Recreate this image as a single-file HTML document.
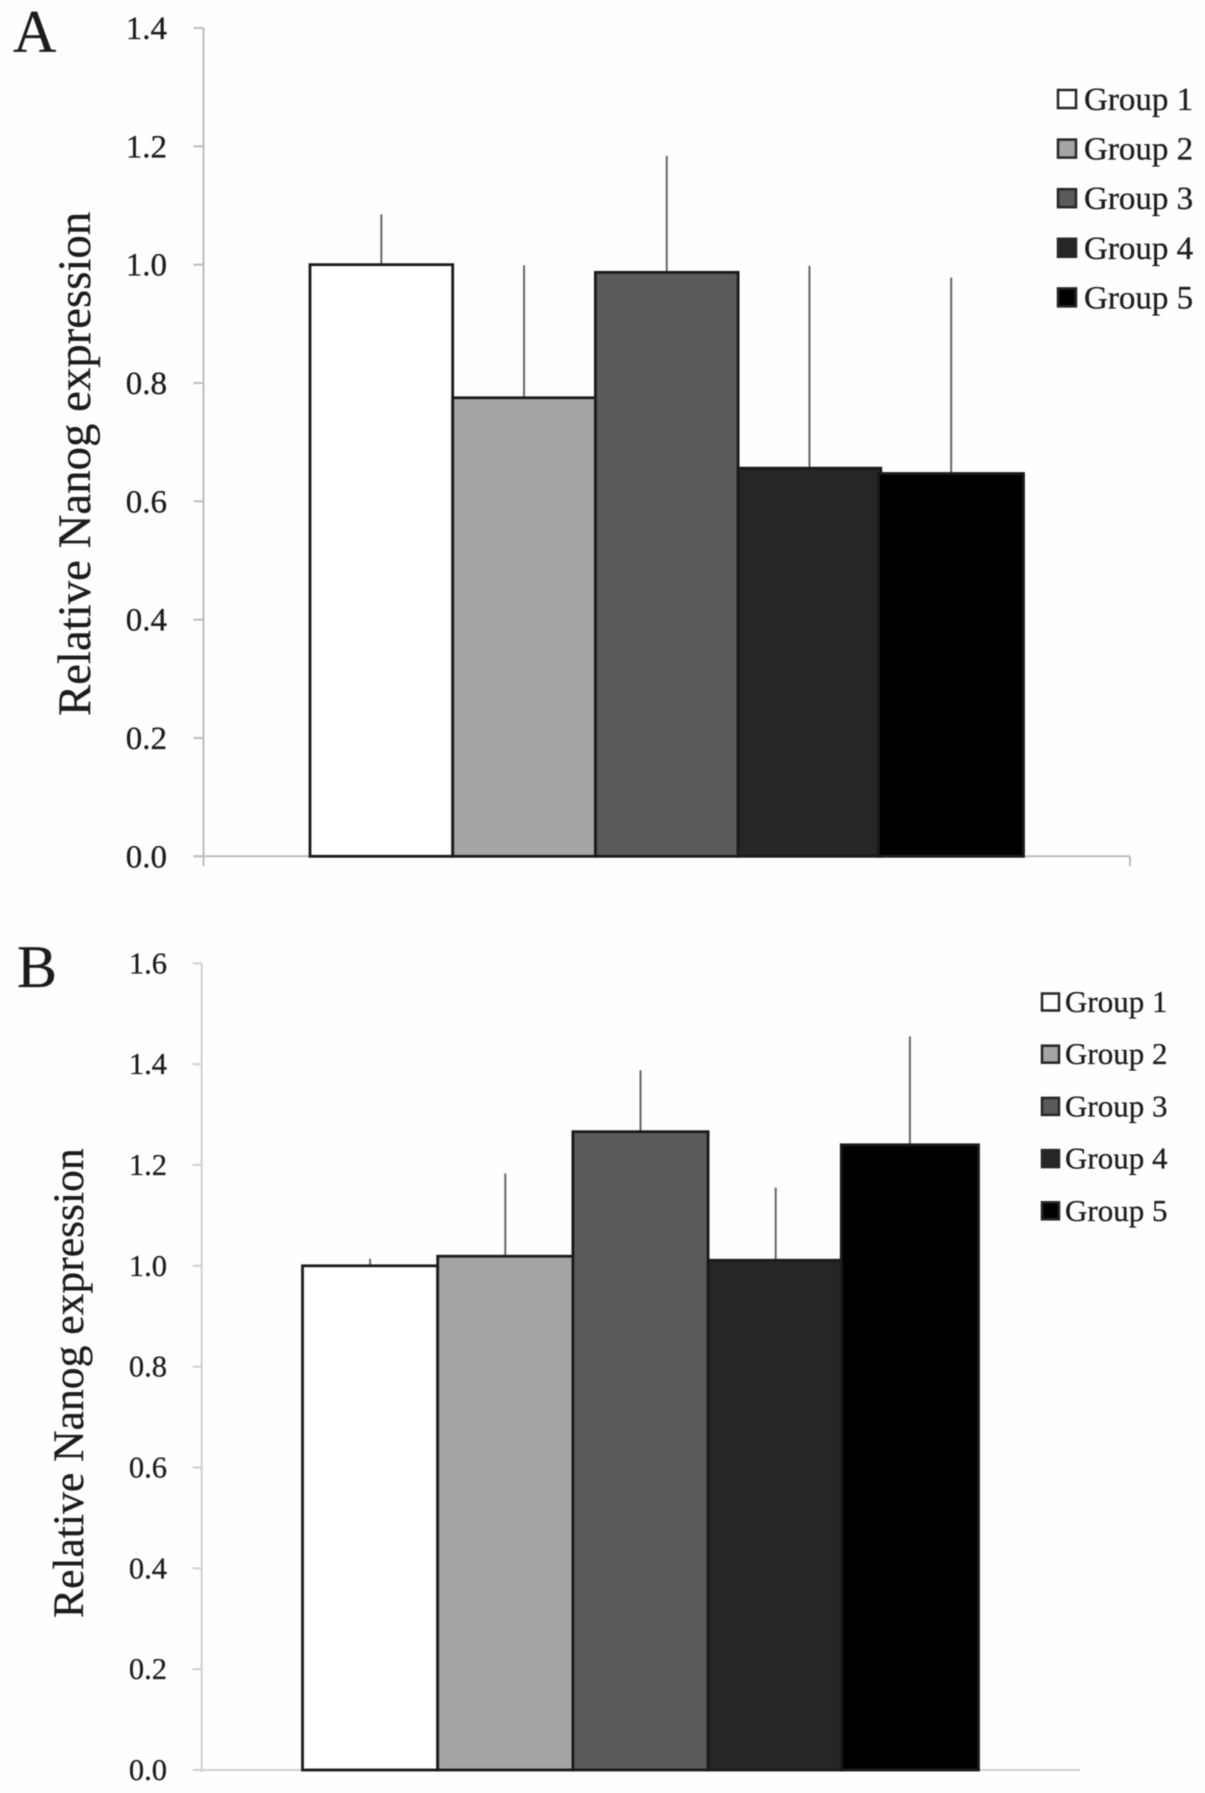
<!DOCTYPE html>
<html lang="en">
<head>
<meta charset="utf-8">
<title>Relative Nanog expression</title>
<style>
  html, body { margin: 0; padding: 0; background: #fefefe; }
  body { width: 1205px; height: 1793px; overflow: hidden; }
  svg { display: block; filter: blur(0.5px); }
  text { font-family: "Liberation Serif", serif; fill: #1c1c1c; stroke: #1c1c1c; stroke-width: 0.3px; }
</style>
</head>
<body>
<svg id="figure" xmlns="http://www.w3.org/2000/svg" width="1205" height="1793" viewBox="0 0 1205 1793">
  <rect x="0" y="0" width="1205" height="1793" fill="#fefefe"/>
  <text x="13" y="52" font-size="60">A</text>
  <text x="17" y="987" font-size="60">B</text>
  <text transform="translate(90 716) rotate(-90)" font-size="46.8">Relative Nanog expression</text>
  <text transform="translate(83 1618) rotate(-90)" font-size="43.6">Relative Nanog expression</text>
</svg>
<script>
const groupNames = ['Group 1', 'Group 2', 'Group 3', 'Group 4', 'Group 5'];
const groupColors = ['#ffffff', '#a5a5a5', '#5a5a5a', '#262626', '#000000'];

const panelATicks = ['0.0', '0.2', '0.4', '0.6', '0.8', '1.0', '1.2', '1.4'];
const panelAMeans = [1.0, 0.775, 0.987, 0.656, 0.647];
const panelAErrors = [0.085, 0.224, 0.197, 0.342, 0.331];

const panelBTicks = ['0.0', '0.2', '0.4', '0.6', '0.8', '1.0', '1.2', '1.4', '1.6'];
const panelBMeans = [1.0, 1.019, 1.266, 1.011, 1.24];
const panelBErrors = [0.014, 0.164, 0.122, 0.144, 0.215];

const SVG_NS = 'http://www.w3.org/2000/svg';
const figure = document.getElementById('figure');

function make(tag, attrs, parent) {
  const el = document.createElementNS(SVG_NS, tag);
  for (const key in attrs) el.setAttribute(key, attrs[key]);
  parent.appendChild(el);
  return el;
}

function drawPanel(cfg, ticks, means, errors) {
  const group = make('g', {}, figure);
  
  

  const tickValues = ticks.map(Number);
  const maxValue = Math.max.apply(null, tickValues);
  const yScale = v => cfg.yZero - (v / maxValue) * (cfg.yZero - cfg.yTop);
  const xBand = i => cfg.barStart + i * cfg.barStep;

  // axes
  const yAxis = make('line', { x1: cfg.axisX, x2: cfg.axisX, y1: cfg.yTop, y2: cfg.axisBottom, stroke: cfg.axisColor, 'stroke-width': 2 }, group);
  
  

  const xAxis = make('line', { x1: cfg.axisX - cfg.tickLen, x2: cfg.axisEnd, y1: cfg.yZero, y2: cfg.yZero, stroke: cfg.axisColor, 'stroke-width': 2 }, group);
  
  

  if (cfg.endTick) {
    const endTick = make('line', { x1: cfg.axisEnd, x2: cfg.axisEnd, y1: cfg.yZero, y2: cfg.yZero + cfg.endTick, stroke: cfg.axisColor, 'stroke-width': 2 }, group);
    
    
  }

  // ticks and labels
  ticks.forEach((label, i) => {
    const y = yScale(tickValues[i]);
    const tick = make('line', { x1: cfg.axisX - cfg.tickLen, x2: cfg.axisX, y1: y, y2: y, stroke: cfg.axisColor, 'stroke-width': 2 }, group);
    
    

    const text = make('text', { x: cfg.labelRight, y: y + cfg.labelShift, 'text-anchor': 'end', 'font-size': cfg.labelSize }, group);
    
    
    text.textContent = label;
  });

  // error bars
  means.forEach((m, i) => {
    const cx = xBand(i) + cfg.barStep / 2 - (i === means.length - 1 ? 1 : 0);
    const err = make('line', { x1: cx, x2: cx, y1: yScale(m), y2: yScale(m + errors[i]), stroke: '#666666', 'stroke-width': 2 }, group);
    
    
  });

  // bars (the last bar overlaps its neighbour slightly, as in the figure)
  means.forEach((m, i) => {
    const top = yScale(m);
    const extend = i === means.length - 1 ? cfg.lastBarExtend : 0;
    const bar = make('rect', { x: xBand(i) - extend, y: top, width: cfg.barStep + extend, height: cfg.yZero - top, fill: groupColors[i], stroke: '#1a1a1a', 'stroke-width': 2.8 }, group);
    
    
  });

  // legend
  groupNames.forEach((name, i) => {
    const cy = cfg.legendY + i * cfg.legendStep;
    const swatch = make('rect', { x: cfg.legendX, y: cy - cfg.swatch / 2, width: cfg.swatch, height: cfg.swatch, fill: groupColors[i], stroke: '#262626', 'stroke-width': 2.5 }, group);
    
    

    const text = make('text', { x: cfg.legendTextX, y: cy + cfg.legendShift, 'font-size': cfg.legendSize }, group);
    
    
    text.textContent = name;
  });
}

drawPanel({
  id: 'panel-a', yZero: 856.3, yTop: 28, axisX: 203.5, axisBottom: 866, axisEnd: 1130, tickLen: 10, endTick: 10,
  axisColor: '#bdbdbd', labelRight: 167, labelShift: 11, labelSize: 33,
  barStart: 310, barStep: 142.7, lastBarExtend: 2.5,
  legendX: 1058, legendY: 99, legendStep: 49.6, swatch: 18, legendTextX: 1084, legendShift: 11, legendSize: 33
}, panelATicks, panelAMeans, panelAErrors);

drawPanel({
  id: 'panel-b', yZero: 1770, yTop: 963.3, axisX: 201.7, axisBottom: 1772, axisEnd: 1080, tickLen: 9, endTick: 0,
  axisColor: '#d0d0d0', labelRight: 167, labelShift: 10, labelSize: 30.5,
  barStart: 302.5, barStep: 135.2, lastBarExtend: 2,
  legendX: 1042, legendY: 1002, legendStep: 52.2, swatch: 17, legendTextX: 1065, legendShift: 10, legendSize: 31
}, panelBTicks, panelBMeans, panelBErrors);
</script>
</body>
</html>
